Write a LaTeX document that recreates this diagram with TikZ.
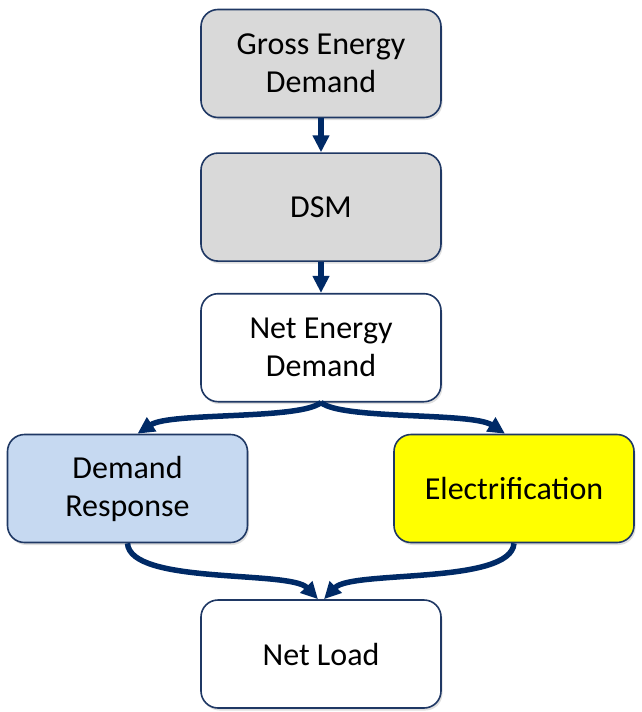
\documentclass[tikz,border=0pt]{standalone}
\usepackage{fontspec}
\setmainfont{Carlito}
\usetikzlibrary{positioning,arrows.meta,shadows}

\definecolor{navy}{HTML}{1F3864}
\definecolor{flownavy}{HTML}{002A66}
\definecolor{boxgray}{HTML}{D9D9D9}
\definecolor{boxblue}{HTML}{C6D9F1}
\definecolor{boxyellow}{HTML}{FFFF00}

\tikzset{
  stage/.style={draw=navy, line width=1.6pt, rounded corners=17pt, fill=white,
    minimum width=240pt, minimum height=108pt, align=center,
    font=\fontsize{32}{38}\selectfont,
    drop shadow={opacity=0.25, shadow xshift=1.5pt, shadow yshift=-2.5pt}},
  flow/.style={draw=flownavy, line width=5.5pt, -{Triangle[width=16pt,length=17pt]}}
}

\begin{document}
\begin{tikzpicture}[x=1pt, y=-1pt]
  \useasboundingbox (0,0) rectangle (641,712);

  \node[stage, fill=boxgray] (G) at (321,63.5) {Gross Energy\\Demand};
  \node[stage, fill=boxgray, below=34pt of G] (D) {DSM};
  \node[stage, below=31pt of D] (N) {Net Energy\\Demand};
  \node[stage, fill=boxblue] (DR) at (127.5,488.5) {Demand\\Response};
  \node[stage, fill=boxyellow] (E) at (514,488.5) {Electrification};
  \node[stage] (L) at (321,654) {Net Load};

  \draw[flow] (G) -- (D);
  \draw[flow] (D) -- (N);
  \draw[flow] (N.south) .. controls (300,420) and (170,412) .. ([xshift=10pt]DR.north);
  \draw[flow] (N.south) .. controls (342,420) and (472,412) .. ([xshift=-9pt]E.north);
  \draw[flow] (DR.south) .. controls (130,585) and (290,570) .. ([xshift=-3pt]L.north);
  \draw[flow] (E.south) .. controls (511,585) and (352,570) .. ([xshift=3pt]L.north);
\end{tikzpicture}
\end{document}
